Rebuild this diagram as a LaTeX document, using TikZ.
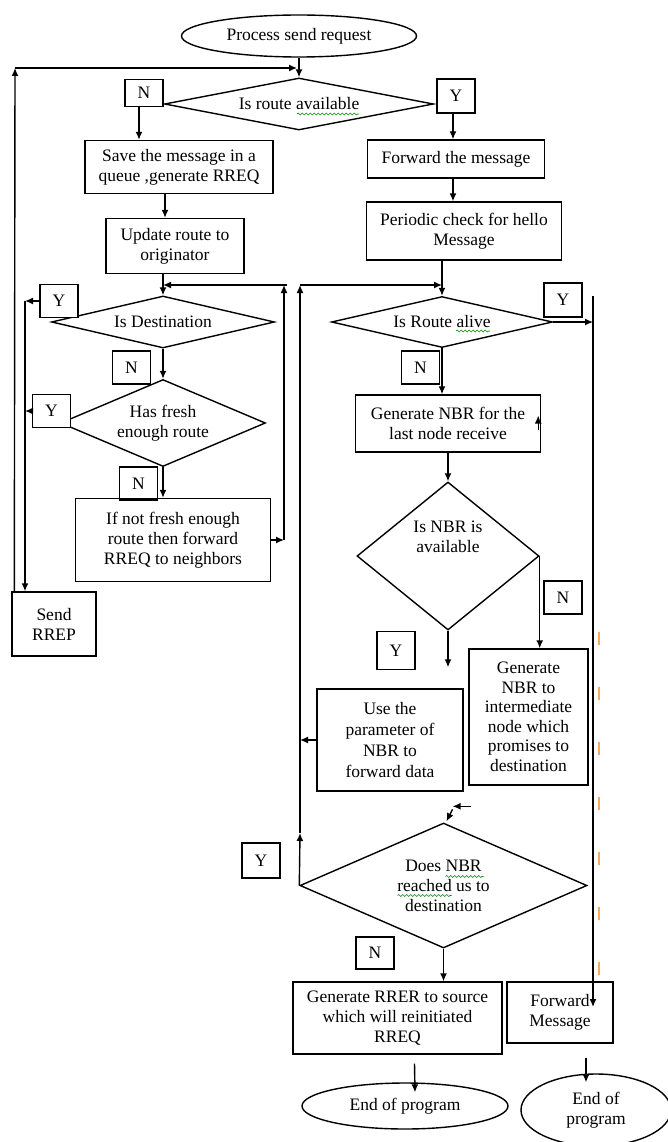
\documentclass[tikz,border=0pt]{standalone}
\usepackage{fontspec}
\setmainfont{Liberation Serif}
\usetikzlibrary{positioning,shapes.geometric,arrows.meta,decorations.pathmorphing}
\definecolor{wordmark}{RGB}{245,170,100}

\begin{document}
\begin{tikzpicture}[x=1pt,y=-1pt,on grid,line width=1.4pt,
  every node/.style={font=\fontsize{17.5}{20}\selectfont},
  term/.style={ellipse,draw,inner sep=0pt,align=center},
  proc/.style={rectangle,draw,inner sep=2pt,align=center},
  decide/.style={diamond,draw,inner sep=0pt,align=center},
  lbl/.style={rectangle,draw,fill=white,inner sep=0pt,minimum width=38pt,minimum height=33pt},
  arr/.style={-{Latex[length=8pt,width=7pt]}},
  squig/.style={draw=green!55!black,line width=0.6pt,decorate,
    decoration={snake,amplitude=1pt,segment length=4pt}}]
 \useasboundingbox (0,0) rectangle (668,1142);
 % left column
 \node[term,minimum width=235pt,minimum height=42pt] (start) at (299,36) {Process send request};
 \node[decide,aspect=5.17,minimum width=269pt,minimum height=52pt,below=68pt of start] (route) {Is route available};
 \node[lbl,minimum height=27pt,above left=11pt and 155pt of route] (nR) {N};
 \node[lbl,minimum height=34pt,above right=8pt and 157pt of route] (yR) {Y};
 \node[proc,minimum width=188pt,minimum height=53pt,below right=74pt and 35pt of nR] (save) {Save the message in a\\queue ,generate RREQ};
 \node[proc,minimum width=138pt,minimum height=55pt,below left=79pt and 4pt of save] (update) {Update route to\\originator};
 \node[decide,aspect=4.29,minimum width=223pt,minimum height=52pt,below left=76pt and 12pt of update] (dest) {Is Destination};
 \node[lbl,above left=21pt and 104pt of dest] (yD) {Y};
 \node[lbl,below left=45.5pt and 31.5pt of dest] (nD) {N};
 \node[decide,aspect=2.36,minimum width=205pt,minimum height=87pt,below=101pt of dest] (fresh) {Has fresh\\enough route};
 \node[lbl,above left=12pt and 111.5pt of fresh] (yF) {Y};
 \node[lbl,below left=60.5pt and 24.5pt of fresh] (nF) {N};
 \node[proc,minimum width=195pt,minimum height=83pt,below right=117pt and 10pt of fresh] (notfresh) {If not fresh enough\\route then forward\\RREQ to neighbors};
 \node[proc,minimum width=84pt,minimum height=64pt,below left=84pt and 119pt of notfresh] (rrep) {Send\\RREP};
 % right column
 \node[proc,minimum width=177pt,minimum height=38pt,below=63pt of yR] (fwd) {Forward the message};
 \node[proc,minimum width=195pt,minimum height=58pt,below right=72pt and 8pt of fwd] (periodic) {Periodic check for hello\\Message};
 \node[decide,aspect=4.33,minimum width=221pt,minimum height=51pt,below left=91pt and 22pt of periodic] (alive) {Is Route alive};
 \node[lbl,minimum height=34pt,above right=22pt and 121pt of alive] (yA) {Y};
 \node[lbl,below left=45.5pt and 21.5pt of alive] (nA) {N};
 \node[proc,minimum width=185pt,minimum height=57pt,below right=101.5pt and 6pt of alive] (gen) {Generate NBR for the\\last node receive};
 \node[decide,aspect=1.23,minimum width=182pt,minimum height=148pt,below=132.5pt of gen] (isnbr) {Is NBR is\\available\\[18pt]\mbox{}};
 \node[lbl,below right=41.5pt and 115pt of isnbr] (nN) {N};
 \node[lbl,minimum height=38pt,below left=94.5pt and 52pt of isnbr] (yN) {Y};
 \node[proc,minimum width=119pt,minimum height=136pt,below right=161pt and 80.5pt of isnbr,font=\fontsize{17.5}{19.5}\selectfont] (inter) {Generate\\NBR to\\intermediate\\node which\\promises to\\destination};
 \node[proc,minimum width=146pt,minimum height=102pt,below left=184pt and 58pt of isnbr,font=\fontsize{17.5}{21}\selectfont] (use) {Use the\\parameter of\\NBR to\\forward data};
 \node[decide,aspect=2.3,minimum width=287pt,minimum height=125pt,below right=145.5pt and 53.5pt of use] (does) {Does NBR\\reached us to\\destination};
 \node[lbl,minimum height=35pt,above left=25pt and 182.5pt of does] (yDo) {Y};
 \node[lbl,minimum height=32pt,below left=67.5pt and 68.5pt of does] (nDo) {N};
 \node[proc,minimum width=209pt,minimum height=72pt,below left=132.5pt and 46pt of does] (rrer) {Generate RRER to source\\which will reinitiated\\RREQ};
 \node[proc,minimum width=106pt,minimum height=61pt,above right=5.5pt and 162.5pt of rrer] (fwdmsg) {Forward\\Message};
 \node[term,minimum width=206pt,minimum height=46pt,below right=88pt and 7.5pt of rrer] (end1) {End of program};
 \node[term,minimum width=150pt,minimum height=72pt,below right=97.5pt and 36pt of fwdmsg] (end2) {End of\\program};
 % helper points
 \coordinate (topcorner) at (15,68);
 \coordinate (topin) at (297,68);
 \coordinate (ycorner) at (25,301);
 \coordinate (nfcorner) at (284,540);
 \coordinate (nftop) at (284,285);
 \coordinate (lpmid) at (300,833);
 \coordinate (lptop) at (300,285);
 \coordinate (rvtop) at (593,296);
 \coordinate (rvbot) at (593,1007);
 % connectors
 \draw[arr] (start) -- (route);
 \draw[arr] ([xshift=3pt]rrep.north west) -- (topcorner);
 \draw[arr] (topcorner) -- (topin);
 \draw[arr] ([xshift=-5pt]nR.south) -- ([xshift=-5pt]nR.south |- save.north);
 \draw[arr] ([xshift=-3pt]yR.south) -- ([xshift=-3pt]yR.south |- fwd.north);
 \draw[arr] ([xshift=-3pt]fwd.south) -- ([xshift=-3pt]fwd.south |- periodic.north);
 \draw[arr] ([xshift=-14pt]save.south) -- ([xshift=-14pt]save.south |- update.north);
 \draw[arr] (update.south -| dest.north) -- (dest.north);
 \draw[arr] (periodic.south -| alive.north) -- (alive.north);
 \draw[arr] (yD.west) -- (ycorner);
 \draw[arr] (ycorner) -- (ycorner |- rrep.north);
 \draw[arr] (yF.west) -- (yF.west -| ycorner);
 \draw[arr] (dest.south) -- (fresh.north);
 \draw[arr] (fresh.south) -- (fresh.south |- notfresh.north);
 \draw[arr] (notfresh.east) -- (nfcorner);
 \draw[arr] (nfcorner) -- (nftop);
 \draw[arr] ([xshift=3pt]nftop) -- (nftop -| dest.north);
 \draw[arr] (does.west) -- (lpmid);
 \draw[arr] (lpmid) -- (lptop);
 \draw[arr] (lptop) -- (lptop -| alive.north);
 \draw[arr] (use.west) -- (use.west -| lpmid);
 \draw[arr] (alive.south) -- (alive.south |- gen.north);
 \draw[arr] ([xshift=-3pt,yshift=-6pt]gen.east) -- ([xshift=-3pt,yshift=8pt]gen.east);
 \draw[arr] (gen.south -| isnbr.north) -- (isnbr.north);
 \draw[arr] (isnbr.east) -- (isnbr.east |- inter.north);
 \draw[arr,shorten >=21pt] (isnbr.south) -- (isnbr.south |- use.north);
 \draw[arr] ([xshift=27pt,yshift=16pt]does.north) -- ([xshift=9pt,yshift=16pt]does.north);
 \draw[arr] ([xshift=9pt,yshift=13pt]does.north) -- ([xshift=3pt,yshift=1pt]does.north);
 \draw[arr] (does.south) -- (does.south |- rrer.north);
 \draw[arr] (alive.east) -- (alive.east -| rvtop);
 \draw[arr] (rvtop) -- (rvbot);
 \draw[arr] ([xshift=17pt,yshift=-9pt]rrer.south) -- ([xshift=10pt,yshift=-10pt]end1.north);
 \draw[arr] ([xshift=26pt,yshift=-14pt]fwdmsg.south) -- ([xshift=-10pt,yshift=-9pt]end2.north);
 % editor marks
 \draw[wordmark,line width=1.2pt,dash pattern=on 13pt off 42pt] (599,632) -- (599,995);
 \draw[squig] ([xshift=-2pt,yshift=-10pt]route.center) -- ([xshift=60pt,yshift=-10pt]route.center);
 \draw[squig] ([xshift=14pt,yshift=-9pt]alive.center) -- ([xshift=48pt,yshift=-9pt]alive.center);
 \draw[squig] ([xshift=2pt,yshift=9pt]does.center) -- ([xshift=40pt,yshift=9pt]does.center);
 \draw[squig] ([xshift=-46pt,yshift=-10pt]does.center) -- ([xshift=8pt,yshift=-10pt]does.center);
\end{tikzpicture}
\end{document}
